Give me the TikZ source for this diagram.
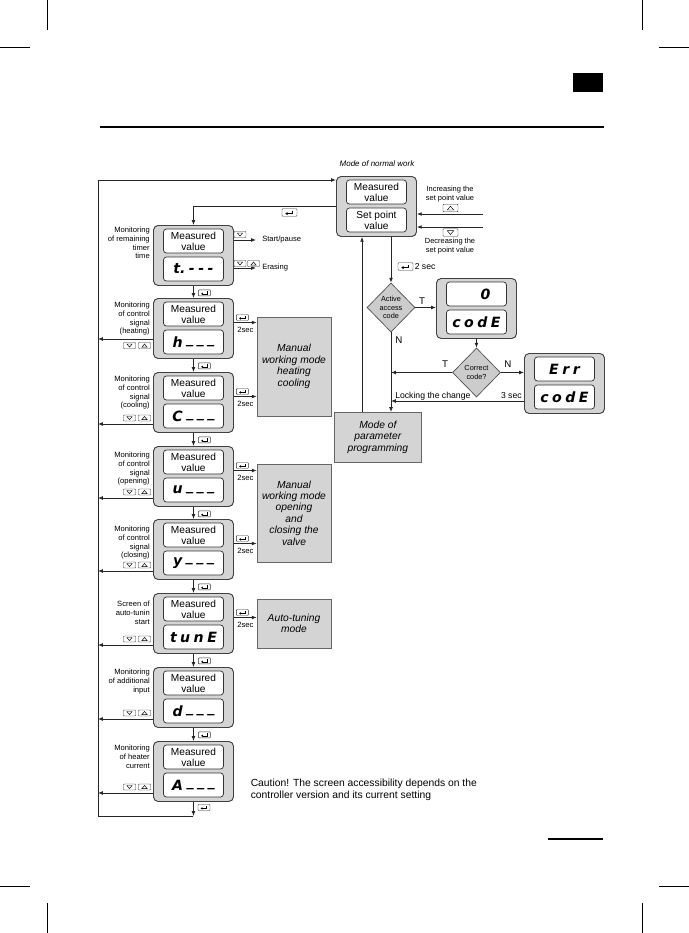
\documentclass[tikz,border=0pt]{standalone}
\usepackage{fontspec}
\setmainfont{Liberation Sans}
\newfontfamily\segfam{DejaVu Sans}
\usetikzlibrary{arrows.meta,shapes.geometric,calc}
\newcommand\segfont{\segfam\bfseries\itshape\fontsize{10.6pt}{12pt}\selectfont}
\newcommand\mvfont{\fontsize{7.6pt}{8.3pt}\selectfont}
\newcommand\smallfont{\fontsize{5.7pt}{6.5pt}\selectfont}
\newcommand\segsp{\hspace{2.6pt}}
\newcommand\segdash{\raisebox{2.6pt}{\_}}
\tikzset{
  ln/.style={draw=black!85, line width=0.55pt},
  arr/.style={ln, -{Latex[length=3.6pt,width=2.8pt]}},
  outerbox/.style={draw=black!75, fill=black!17, rounded corners=3.5pt, line width=0.7pt,
    minimum width=60pt, minimum height=45pt, inner sep=0pt},
  innerbox/.style={draw=black!80, fill=white, rounded corners=2.2pt, line width=0.55pt,
    minimum width=45pt, minimum height=18pt, inner sep=0pt, align=center, font=\mvfont},
  seg/.style={font=\segfont},
  lab/.style={font=\smallfont, align=right, anchor=north east, inner sep=0pt},
  small/.style={font=\smallfont, inner sep=0pt, align=center},
  mbox/.style={draw=black!60, fill=black!17, line width=0.5pt, inner sep=0pt, align=center,
    minimum width=55.5pt, font=\itshape\fontsize{7.7pt}{8.6pt}\selectfont},
  dia/.style={diamond, draw=black!70, fill=black!20, line width=0.5pt, minimum width=36pt,
    minimum height=36.75pt, inner sep=0pt, aspect=1, align=center,
    font=\fontsize{5.5pt}{6.4pt}\selectfont},
  mid/.style={font=\fontsize{6.5pt}{7.5pt}\selectfont, inner sep=0pt},
  letter/.style={font=\fontsize{7.3pt}{8pt}\selectfont, inner sep=0pt},
  crop/.style={draw=black, line width=0.75pt},
  keybox/.style={draw=black!80, line width=0.35pt, rounded corners=0.6pt, fill=white},
  enterkey/.pic={\draw[keybox] (-6,-3) rectangle (6,3);
    \draw[line width=0.4pt] (2.6,-1.6) -- (2.6,0.9) -- (-1.8,0.9);
    \fill (-3.4,0.9) -- (-1.6,-0.3) -- (-1.6,2.1) -- cycle;},
  downkey/.pic={\draw[keybox] (-6,-3) rectangle (6,3);
    \draw[line width=0.35pt] (-2.6,-1.5) -- (2.6,-1.5) -- (0,1.6) -- cycle;},
  upkey/.pic={\draw[keybox] (-6,-3) rectangle (6,3);
    \draw[line width=0.35pt] (-2.6,1.6) -- (2.6,1.6) -- (0,-1.5) -- cycle;},
}
\newcommand\dispbox[6][seg]{%
  \node[outerbox, anchor=north west] (#2) at (#3,#4) {};
  \node[innerbox] (#2-t) at ($(#2.north)+(0,16)$) {#5};
  \node[innerbox,#1] (#2-b) at ($(#2.north)+(0,44)$) {#6};}
\begin{document}
\begin{tikzpicture}[x=0.75pt,y=-0.75pt]
\useasboundingbox (0,0) rectangle (689,933);
\fill[white] (0,0) rectangle (689,933);
% crop marks and rules
\draw[crop] (47,0) -- (47,30);
\draw[crop] (0,47) -- (30,47);
\draw[crop] (642,0) -- (642,30);
\draw[crop] (659,47) -- (689,47);
\draw[crop] (0,886) -- (30,886);
\draw[crop] (659,886) -- (689,886);
\draw[crop] (47,903) -- (47,933);
\draw[crop] (642,903) -- (642,933);
\fill[black] (573,73) rectangle (603,92);
\draw[line width=0.8pt] (100,127) -- (604,127);
\draw[line width=0.8pt] (548,839) -- (603,839);

% title
\node[font=\itshape\fontsize{6pt}{7pt}\selectfont, inner sep=0pt] (title) at (377,164) {Mode of normal work};

% normal work box
\dispbox[]{N}{336}{176}{Measured\\value}{Set point\\value}

% left column
\dispbox{T1}{153}{225}{Measured\\value}{t.\segsp-\segsp-\segsp-}
\dispbox{H}{153}{298}{Measured\\value}{h\segsp\segdash\segsp\segdash\segsp\segdash}
\dispbox{C}{153}{372}{Measured\\value}{C\segsp\segdash\segsp\segdash\segsp\segdash}
\dispbox{O}{153}{446}{Measured\\value}{u\segsp\segdash\segsp\segdash\segsp\segdash}
\dispbox{Y}{153}{519}{Measured\\value}{y\segsp\segdash\segsp\segdash\segsp\segdash}
\dispbox{Tn}{153}{593}{Measured\\value}{t\segsp u\segsp n\segsp E}
\dispbox{D}{153}{667}{Measured\\value}{d\segsp\segdash\segsp\segdash\segsp\segdash}
\dispbox{A}{153}{741}{Measured\\value}{A\segsp\segdash\segsp\segdash\segsp\segdash}

% left labels
\node[lab] (T1-lab) at (150,227) {Monitoring\\of remaining\\timer\\time};
\node[lab] (H-lab) at (150,302) {Monitoring\\of control\\signal\\(heating)};
\node[lab] (C-lab) at (150,376) {Monitoring\\of control\\signal\\(cooling)};
\node[lab] (O-lab) at (150,452) {Monitoring\\of control\\signal\\(opening)};
\node[lab] (Y-lab) at (150,526) {Monitoring\\of control\\signal\\(closing)};
\node[lab] (Tn-lab) at (150,601) {Screen of\\auto-tunin\\start};
\node[lab] (D-lab) at (150,669) {Monitoring\\of additional\\input};
\node[lab] (A-lab) at (150,745) {Monitoring\\of heater\\current};

% manual boxes
\node[mbox, minimum height=74.25pt] (M1) at (294,366.5) {Manual\\working mode\\heating\\cooling};
\node[mbox, minimum height=73.5pt] (M2) at (294,513) {Manual\\working mode\\opening\\and\\closing the\\valve};
\node[mbox, minimum height=36.75pt] (M3) at (294,623.5) {Auto-tuning\\mode};

% main loop
\coordinate (LB) at (98,816);
\coordinate (LT) at (98,180);
\draw[arr] (A.south) -- (A.south |- LB);
\draw[arr] (A.south |- LB) -- (LB) -- (LT) -- (LT -| N.west);
\pic at (204,807.5) {enterkey};

% N to timer
\draw[arr] (N.west) -| (T1.north);
\pic[scale=1.25] at (289.5,212.5) {enterkey};

% timer right arrows
\node[small, anchor=west, inner xsep=4.5pt] (sp) at (256,240) {Start/pause};
\draw[arr] (T1.east |- sp.west) -- (sp.west);
\pic at (240,234.5) {downkey};
\node[small, anchor=west, inner xsep=4.5pt] (er) at (256,268) {Erasing};
\draw[arr] (T1.east |- er.west) -- (er.west);
\pic at (240,263.5) {downkey};
\pic at (253.5,263.5) {upkey};

% downward chain
\foreach \a/\b in {T1/H,H/C,C/O,O/Y,Y/Tn,Tn/D,D/A}{
  \draw[arr] (\a.south) -- (\b.north);
  \pic at ($(\a.south)+(11,7)$) {enterkey};
}

% left returns
\coordinate (H-l) at ($(H.north west)+(0,41)$);
\draw[arr] (H-l) -- (H-l -| LB);
\pic at ($(H.north west)+(-23.5,47.5)$) {downkey};
\pic at ($(H.north west)+(-8.5,47.5)$) {upkey};
\foreach \b in {C,O,Y,Tn,D,A}{
  \coordinate (\b-l) at ($(\b.north west)+(0,52)$);
  \draw[arr] (\b-l) -- (\b-l -| LB);
  \pic at ($(\b.north west)+(-23.5,46)$) {downkey};
  \pic at ($(\b.north west)+(-8.5,46)$) {upkey};
}

% 2sec arrows to manual boxes
\foreach \b/\m in {H/M1,C/M1,O/M2,Y/M2,Tn/M3}{
  \coordinate (\b-r) at ($(\b.north east)+(0,24.5)$);
  \draw[arr] (\b-r) -- (\b-r -| \m.west);
  \pic at ($(\b.north east)+(8.5,19.5)$) {enterkey};
  \node[small] at ($(\b.north east)+(11.5,31.5)$) {2sec};
}

% set point adjust arrows
\node[small, font=\fontsize{5.6pt}{6.7pt}\selectfont] (inc) at (450,194.5) {Increasing the\\set point value};
\coordinate (incS) at (483,214);
\draw[arr] (incS) -- (incS -| N.east);
\pic[scale=1.25] at (450.5,208) {upkey};
\coordinate (decS) at (483,227);
\draw[arr] (decS) -- (decS -| N.east);
\pic[scale=1.25] at (450.5,232.5) {downkey};
\node[small, font=\fontsize{5.6pt}{6.7pt}\selectfont] (dec) at (450,246.5) {Decreasing the\\set point value};

% access code branch
\node[dia] (D1) at (391,307.5) {Active\\access\\code};
\dispbox{C1}{436}{278}{}{c\segsp o\segsp d\segsp E}
\node[seg, inner sep=0pt] (zero) at (485.5,294.5) {0};
\node[dia, font=\fontsize{5.5pt}{6.1pt}\selectfont] (D2) at (476.5,372.5) {Correct\\code?};
\dispbox{E1}{524}{353}{{\segfont E\segsp r\segsp r}}{c\segsp o\segsp d\segsp E}
\node[mbox, minimum width=65.25pt, minimum height=37.5pt, anchor=north west] (P) at (334,412) {Mode of\\parameter\\programming};

\draw[arr] (D1.north |- N.south) -- (D1.north);
\pic[scale=1.25] at (405.5,266.5) {enterkey};
\node[mid, anchor=west] (two) at (414.5,266.5) {2 sec};
\draw[arr] (D1.east) -- (D1.east -| C1.west);
\node[letter] (t1) at (422,301) {T};
\node[letter] (n1) at (399,340) {N};
\draw[arr] (D1.south) -- (D1.south |- P.north);
\draw[arr] (C1.south) -- (C1.south |- D2.north);
\draw[arr] (D2.west) -- (D2.west -| D1.south);
\node[letter] (t2) at (445,364) {T};
\draw[arr] (D2.east) -- (D2.east -| E1.west);
\node[letter] (n2) at (508,364) {N};
\coordinate (E1-l) at ($(E1.north west)+(0,48)$);
\draw[arr] (E1-l) -- (E1-l -| D1.south);
\node[mid, anchor=west] (lock) at (395,396) {Locking the change};
\node[mid, anchor=east] (three) at (522,396) {3 sec};
\coordinate (Pu) at ($(P.north west)+(28,0)$);
\draw[arr] (Pu) -- (Pu |- N.south);

% caution
\node[font=\fontsize{7.75pt}{9pt}\selectfont, align=left, anchor=west, inner sep=0pt] (caution) at (250.5,790)
  {Caution! The screen accessibility depends on the\\controller version and its current setting};
\end{tikzpicture}
\end{document}
